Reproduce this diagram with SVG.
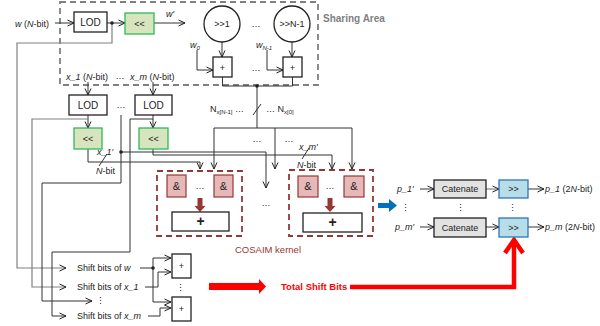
<svg xmlns="http://www.w3.org/2000/svg" width="600" height="326" viewBox="0 0 600 326">
<defs>
<marker id="ar" viewBox="0 0 8 8" refX="7.5" refY="4" markerWidth="8" markerHeight="8" markerUnits="userSpaceOnUse" orient="auto"><path d="M1,1 L7.5,4 L1,7" fill="none" stroke="#222" stroke-width="1"/></marker>
<style>
text{font-family:"Liberation Sans",Arial,sans-serif;font-size:9px;fill:#222}
.c{text-anchor:middle}
.i{font-style:italic}
.ln{fill:none;stroke:#333;stroke-width:1}
.gl{fill:none;stroke:#808080;stroke-width:1.2}
.a{marker-end:url(#ar)}
.box{fill:#fff;stroke:#222;stroke-width:1.3}
.grn{fill:#d7e4bd;stroke:#2dbb5a;stroke-width:1.3}
.amp{fill:#e6b9b8;stroke:#953735;stroke-width:1.2}
.kd{fill:none;stroke:#953735;stroke-width:1.8;stroke-dasharray:6,4}
.cat{fill:#e2e2e2;stroke:#222;stroke-width:1.3}
.sh{fill:#b7dee8;stroke:#2e75b6;stroke-width:1.3}
</style>
</defs>

<!-- sharing area -->
<g id="sharing-area">
<rect x="60" y="2" width="258" height="83" fill="none" stroke="#808080" stroke-width="1.8" stroke-dasharray="6,4"/>
<text x="323" y="22" style="font-size:10px;font-weight:bold;fill:#7f7f7f">Sharing Area</text>
</g>

<g id="connectors">
<path class="ln a" d="M55,23 H74"/>
<path class="ln a" d="M107,23 H125"/>
<path class="ln a" d="M154,23 H185"/>
<path class="gl a" d="M112,23 V43 H17 V268 H66"/>
<path class="ln a" d="M222,42 V57"/>
<path class="ln a" d="M292,42 V57"/>
<path class="ln a" d="M197,50 V70 H213"/>
<path class="ln a" d="M267,50 V70 H283"/>
<path class="ln" d="M222.5,77 V86 H292.5 V77"/>
<path class="ln" d="M257,86 V128"/>
<path class="ln" d="M253,115 L261,104"/>
<path class="ln" d="M214,128 H352"/>
<path class="ln a" d="M214,128 V169"/>
<path class="ln a" d="M275,128 V169"/>
<path class="ln a" d="M352,128 V169"/>
<path class="ln a" d="M88,82 V95"/>
<path class="ln a" d="M153,82 V95"/>
<path class="ln a" d="M88,115 V128"/>
<path class="ln a" d="M153,115 V128"/>
<path class="gl a" d="M88,119 H32 V287 H66"/>
<path class="ln a" d="M153,119 H130 V252 H52 V316 H66"/>
<path class="ln a" d="M121,115 V183 H42 V301 H92"/>
<path class="ln a" d="M121,152 H266 V188"/>
<path class="ln a" d="M88,149 V162 H200 V169"/>
<path class="ln" d="M99,166 L107,154"/>
<path class="ln a" d="M153,149 V155 H332 V169"/>
<path class="ln" d="M302,159 L309,148"/>
<path class="ln" d="M140,268 H153"/>
<path class="ln a" d="M153,258 V302 H171"/>
<path class="ln a" d="M153,258 H171"/>
<path class="ln a" d="M145,287 H158 V272 H171"/>
<path class="ln a" d="M148,316 H160 V308 H171"/>
<path class="ln a" d="M420,189 H434"/>
<path class="ln a" d="M420,227 H434"/>
<path class="gl a" d="M486,189 H499"/>
<path class="ln a" d="M486,227 H499"/>
<path class="ln a" d="M528,189 H544"/>
<path class="ln a" d="M528,227 H544"/>
<circle cx="112" cy="23" r="1.8" fill="#222"/>
<circle cx="257" cy="86" r="1.8" fill="#222"/>
<circle cx="121" cy="152" r="1.8" fill="#222"/>
<circle cx="153" cy="268" r="1.8" fill="#222"/>
<!-- blue arrow -->
<polygon points="378,203 389,203 389,199 397,205.5 389,212 389,208 378,208" fill="#0070c0"/>
<!-- red arrows -->
<polygon points="209,283 259,283 259,279 266,286.5 259,294 259,290 209,290" fill="#ff0000"/>
<path d="M350,287 H514 V241" fill="none" stroke="#ff0000" stroke-width="4.5"/>
<path d="M505,253 L514,240 L523,253" fill="none" stroke="#ff0000" stroke-width="4.5"/>
</g>

<g id="w-input"><text x="15" y="27"><tspan class="i">w</tspan> (<tspan class="i">N</tspan>-bit)</text></g>
<g id="lod-w"><rect class="box" x="74" y="12" width="33" height="20"/><text class="c" x="90.5" y="26" style="font-size:10px">LOD</text></g>
<g id="shl-w"><rect class="grn" x="125" y="13" width="29" height="21"/><text class="c" x="139.5" y="27">&lt;&lt;</text></g>
<g id="w-prime"><text class="i" x="166" y="17">w′</text></g>
<g id="shr-1"><circle cx="222" cy="24" r="18" fill="#fff" stroke="#222" stroke-width="1.3"/><text class="c" x="222" y="27">&gt;&gt;1</text></g>
<g id="shr-n1"><circle cx="292" cy="24" r="18" fill="#fff" stroke="#222" stroke-width="1.3"/><text class="c" x="292" y="27">&gt;&gt;N-1</text></g>
<text class="c" x="256" y="27">…</text>
<g id="w0"><text class="i" x="190" y="48">w<tspan style="font-size:6px" dy="2">0</tspan></text></g>
<g id="wn1"><text class="i" x="256" y="48">w<tspan style="font-size:6px" dy="2">N-1</tspan></text></g>
<g id="add-0"><rect class="box" x="213" y="57" width="19" height="20"/><text class="c" x="222.5" y="71">+</text></g>
<g id="add-n1"><rect class="box" x="283" y="57" width="19" height="20"/><text class="c" x="292.5" y="71">+</text></g>
<text class="c" x="256" y="71">…</text>

<g id="n-labels">
<text x="210" y="112">N<tspan style="font-size:6px" dy="2">x[N-1]</tspan><tspan dy="-2"> …</tspan></text>
<text x="266" y="112">… N<tspan style="font-size:6px" dy="2">x[0]</tspan></text>
<text class="c" x="257" y="142">…</text>
<text class="c" x="289" y="142">…</text>
</g>

<g id="x-inputs">
<text x="66" y="80"><tspan class="i">x_1</tspan> (<tspan class="i">N</tspan>-bit)</text>
<text class="c" x="120" y="79">…</text>
<text x="130" y="80"><tspan class="i">x_m</tspan> (<tspan class="i">N</tspan>-bit)</text>
</g>
<g id="lod-1"><rect class="box" x="69" y="95" width="38" height="20"/><text class="c" x="88" y="109" style="font-size:10px">LOD</text></g>
<text class="c" x="121" y="108">…</text>
<g id="lod-m"><rect class="box" x="135" y="95" width="37" height="20"/><text class="c" x="153.5" y="109" style="font-size:10px">LOD</text></g>
<g id="shl-1"><rect class="grn" x="74" y="128" width="28" height="21"/><text class="c" x="88" y="142">&lt;&lt;</text></g>
<g id="shl-m"><rect class="grn" x="139" y="128" width="29" height="21"/><text class="c" x="153.5" y="142">&lt;&lt;</text></g>
<g id="x1p-label"><text class="i" x="97" y="155">x_1′</text><text x="96" y="174"><tspan class="i">N</tspan>-bit</text></g>
<g id="xmp-label"><text class="i" x="299" y="150">x_m′</text><text x="297" y="168"><tspan class="i">N</tspan>-bit</text></g>

<g id="kernel-1">
<rect class="kd" x="157" y="171" width="85" height="65"/>
<rect class="amp" x="167" y="175" width="19" height="22"/><text class="c" x="176.5" y="190" style="font-size:11px">&amp;</text>
<text class="c" x="200" y="189">…</text>
<rect class="amp" x="214" y="175" width="19" height="22"/><text class="c" x="223.5" y="190" style="font-size:11px">&amp;</text>
<polygon points="197.5,198 202.5,198 202.5,206 205.5,206 200,212 194.5,206 197.5,206" fill="#953735"/>
<rect class="box" x="172" y="212" width="57" height="19"/><text class="c" x="200.5" y="226" style="font-size:14px;font-weight:bold">+</text>
</g>
<text class="c" x="266" y="206">…</text>
<g id="kernel-m">
<rect class="kd" x="289" y="170" width="84" height="66"/>
<rect class="amp" x="298" y="176" width="20" height="21"/><text class="c" x="308" y="190" style="font-size:11px">&amp;</text>
<text class="c" x="330" y="189">…</text>
<rect class="amp" x="344" y="176" width="20" height="21"/><text class="c" x="354" y="190" style="font-size:11px">&amp;</text>
<polygon points="327.5,198 332.5,198 332.5,206 335.5,206 330,212 324.5,206 327.5,206" fill="#953735"/>
<rect class="box" x="303" y="213" width="59" height="19"/><text class="c" x="332.5" y="227" style="font-size:14px;font-weight:bold">+</text>
</g>
<g id="kernel-label"><text x="235" y="253" style="font-size:9.5px;fill:#953735">COSAIM kernel</text></g>

<g id="outputs">
<text class="i" x="397" y="192">p_1′</text>
<text class="i" x="395" y="230">p_m′</text>
<text class="c" x="405" y="211">⋮</text>
<rect class="cat" x="434" y="180" width="52" height="18"/><text class="c" x="460" y="192">Catenate</text>
<rect class="sh" x="499" y="180" width="29" height="18"/><text class="c" x="513.5" y="192">&gt;&gt;</text>
<text class="c" x="460" y="211">⋮</text>
<text class="c" x="512" y="211">⋮</text>
<rect class="cat" x="434" y="218" width="52" height="19"/><text class="c" x="460" y="231">Catenate</text>
<rect class="sh" x="499" y="218" width="29" height="19"/><text class="c" x="513.5" y="231">&gt;&gt;</text>
<text x="545" y="192"><tspan class="i">p_1</tspan> (2<tspan class="i">N</tspan>-bit)</text>
<text x="545" y="230"><tspan class="i">p_m</tspan> (2<tspan class="i">N</tspan>-bit)</text>
</g>

<g id="shift-bits">
<text x="77" y="271">Shift bits of <tspan class="i">w</tspan></text>
<text x="77" y="290">Shift bits of <tspan class="i">x_1</tspan></text>
<text class="c" x="100" y="304">⋮</text>
<text x="77" y="319">Shift bits of <tspan class="i">x_m</tspan></text>
<rect class="box" x="172" y="254" width="19" height="24"/><text class="c" x="181.5" y="269">+</text>
<text class="c" x="180" y="291">⋮</text>
<rect class="box" x="172" y="297" width="19" height="24"/><text class="c" x="181.5" y="312">+</text>
</g>
<g id="total-label"><text x="281" y="290" style="font-size:9.5px;font-weight:bold;fill:#ff0000">Total Shift Bits</text></g>
</svg>
